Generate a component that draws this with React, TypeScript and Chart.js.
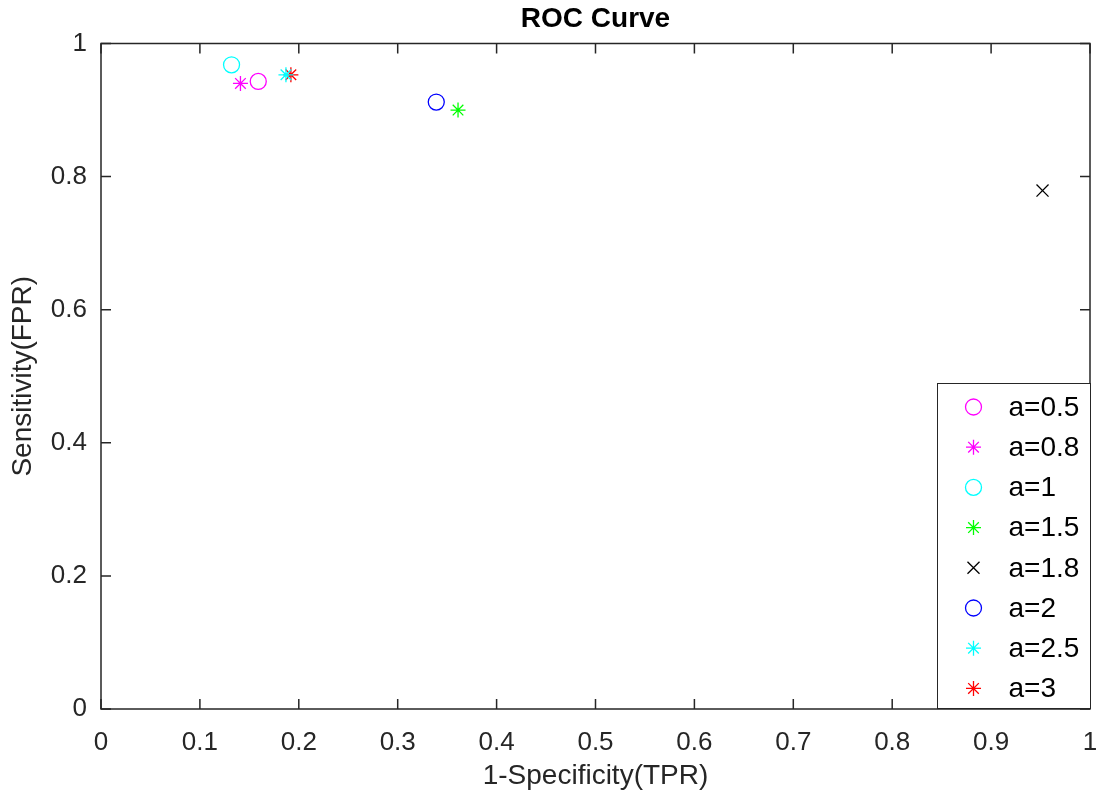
import React, { useEffect, useRef } from 'react';
import { Chart, registerables } from 'chart.js';

Chart.register(...registerables);

const seriesLabels = ['a=0.5', 'a=0.8', 'a=1', 'a=1.5', 'a=1.8', 'a=2', 'a=2.5', 'a=3'];
const xValues = [0.159, 0.141, 0.132, 0.361, 0.952, 0.339, 0.187, 0.192];
const yValues = [0.943, 0.94, 0.968, 0.9, 0.779, 0.912, 0.953, 0.953];
const seriesColors = ['#ff00ff', '#ff00ff', '#00ffff', '#00ff00', '#000000', '#0000ff', '#00ffff', '#ff0000'];
const seriesMarkers = ['circle', 'star', 'circle', 'star', 'crossRot', 'circle', 'star', 'star'];
const markerRadius = [8, 7.5, 8, 7.5, 8.5, 8, 7.5, 7.5];
const xTicks = [0, 0.1, 0.2, 0.3, 0.4, 0.5, 0.6, 0.7, 0.8, 0.9, 1];
const yTicks = [0, 0.2, 0.4, 0.6, 0.8, 1];

const AXIS_COLOR = '#262626';
const FONT = "'Liberation Sans', Arial, Helvetica, sans-serif";

function drawMarker(ctx: CanvasRenderingContext2D, style: string, x: number, y: number, r: number, color: string) {
  ctx.save();
  ctx.strokeStyle = color;
  ctx.lineWidth = 1.3;
  ctx.beginPath();
  if (style === 'circle') {
    ctx.arc(x, y, r, 0, Math.PI * 2);
  } else if (style === 'crossRot') {
    const o = Math.cos(Math.PI / 4) * r;
    ctx.moveTo(x - o, y - o); ctx.lineTo(x + o, y + o);
    ctx.moveTo(x + o, y - o); ctx.lineTo(x - o, y + o);
  } else {
    ctx.moveTo(x - r, y); ctx.lineTo(x + r, y);
    ctx.moveTo(x, y - r); ctx.lineTo(x, y + r);
    const o = Math.cos(Math.PI / 4) * r;
    ctx.moveTo(x - o, y - o); ctx.lineTo(x + o, y + o);
    ctx.moveTo(x + o, y - o); ctx.lineTo(x - o, y + o);
  }
  ctx.stroke();
  ctx.restore();
}

const framePlugin = {
  id: 'matlabFrame',
  afterDraw(chart: any) {
    const { ctx, chartArea } = chart;
    const { left, right, top, bottom } = chartArea;
    const xs = chart.scales.x;
    const ys = chart.scales.y;
    ctx.save();
    ctx.strokeStyle = AXIS_COLOR;
    ctx.lineWidth = 1.5;
    ctx.strokeRect(left, top, right - left, bottom - top);
    const tl = 10;
    ctx.beginPath();
    xTicks.forEach((v) => {
      const px = xs.getPixelForValue(v);
      ctx.moveTo(px, bottom); ctx.lineTo(px, bottom - tl);
      ctx.moveTo(px, top); ctx.lineTo(px, top + tl);
    });
    yTicks.forEach((v) => {
      const py = ys.getPixelForValue(v);
      ctx.moveTo(left, py); ctx.lineTo(left + tl, py);
      ctx.moveTo(right, py); ctx.lineTo(right - tl, py);
    });
    ctx.stroke();

    // legend box (inside, lower right)
    const boxW = 153;
    const boxH = 325;
    const bx = Math.round(right - boxW) + 0.5;
    const by = Math.round(bottom - boxH) - 0.5;
    ctx.fillStyle = '#ffffff';
    ctx.fillRect(bx, by, boxW, boxH);
    ctx.lineWidth = 1;
    ctx.strokeStyle = AXIS_COLOR;
    ctx.strokeRect(bx, by, boxW, boxH);
    ctx.font = `28px ${FONT}`;
    ctx.textBaseline = 'middle';
    ctx.textAlign = 'left';
    chart.data.datasets.forEach((ds: any, i: number) => {
      const cy = by + 23.5 + i * 40.2;
      drawMarker(ctx, ds.pointStyle, bx + 36, cy, ds.pointRadius, ds.pointBorderColor);
      ctx.fillStyle = '#000000';
      ctx.fillText(ds.label, bx + 71, cy + 1);
    });
    ctx.restore();
  },
};

export default function App() {
  const canvasRef = useRef<HTMLCanvasElement | null>(null);

  useEffect(() => {
    document.body.style.margin = '0';
    const canvas = canvasRef.current;
    if (!canvas) return;
    const datasets = seriesLabels.map((label, i) => ({
      label,
      data: [{ x: xValues[i], y: yValues[i] }],
      pointStyle: seriesMarkers[i],
      pointRadius: markerRadius[i],
      pointHoverRadius: markerRadius[i],
      pointBorderColor: seriesColors[i],
      pointBackgroundColor: 'rgba(0,0,0,0)',
      pointBorderWidth: 1.3,
      showLine: false,
    }));
    const chart = new Chart(canvas, {
      type: 'scatter',
      data: { datasets },
      options: {
        animation: false,
        responsive: false,
        devicePixelRatio: 1,
        layout: { padding: { left: 0, right: 17, top: 0, bottom: 0 } },
        plugins: {
          legend: { display: false },
          tooltip: { enabled: false },
          title: {
            display: true,
            text: 'ROC Curve',
            fullSize: false,
            color: '#000000',
            font: { family: FONT, size: 28, weight: 'bold' },
            padding: { top: 2.7, bottom: 7.2 },
          },
        },
        scales: {
          x: {
            type: 'linear',
            min: 0,
            max: 1,
            afterFit: (s: any) => { s.height = 94; s.paddingLeft = 0; s.paddingRight = 0; },
            afterBuildTicks: (s: any) => { s.ticks = xTicks.map((v) => ({ value: v })); },
            grid: { display: false, drawTicks: false },
            border: { display: false },
            ticks: {
              color: AXIS_COLOR,
              font: { family: FONT, size: 26 },
              padding: 18,
              maxRotation: 0,
              autoSkip: false,
              callback: (v: any) => String(Math.round(Number(v) * 10) / 10),
            },
            title: {
              display: true,
              text: '1-Specificity(TPR)',
              color: AXIS_COLOR,
              font: { family: FONT, size: 28 },
              padding: { top: 0, bottom: 10 },
            },
          },
          y: {
            type: 'linear',
            min: 0,
            max: 1,
            afterFit: (s: any) => { s.width = 101; s.paddingTop = 0; s.paddingBottom = 0; },
            afterBuildTicks: (s: any) => { s.ticks = yTicks.map((v) => ({ value: v })); },
            grid: { display: false, drawTicks: false },
            border: { display: false },
            ticks: {
              color: AXIS_COLOR,
              font: { family: FONT, size: 26 },
              padding: 14,
              autoSkip: false,
              callback: (v: any) => String(Math.round(Number(v) * 10) / 10),
            },
            title: {
              display: true,
              text: 'Sensitivity(FPR)',
              color: AXIS_COLOR,
              font: { family: FONT, size: 28 },
              padding: { top: 6.5, bottom: 0 },
            },
          },
        },
      },
      plugins: [framePlugin],
    } as any);
    return () => chart.destroy();
  }, []);

  return (
    <div style={{ position: 'absolute', left: 0, top: 0, width: 1107, height: 803, background: '#ffffff' }}>
      <canvas ref={canvasRef} width={1107} height={803} />
    </div>
  );
}
